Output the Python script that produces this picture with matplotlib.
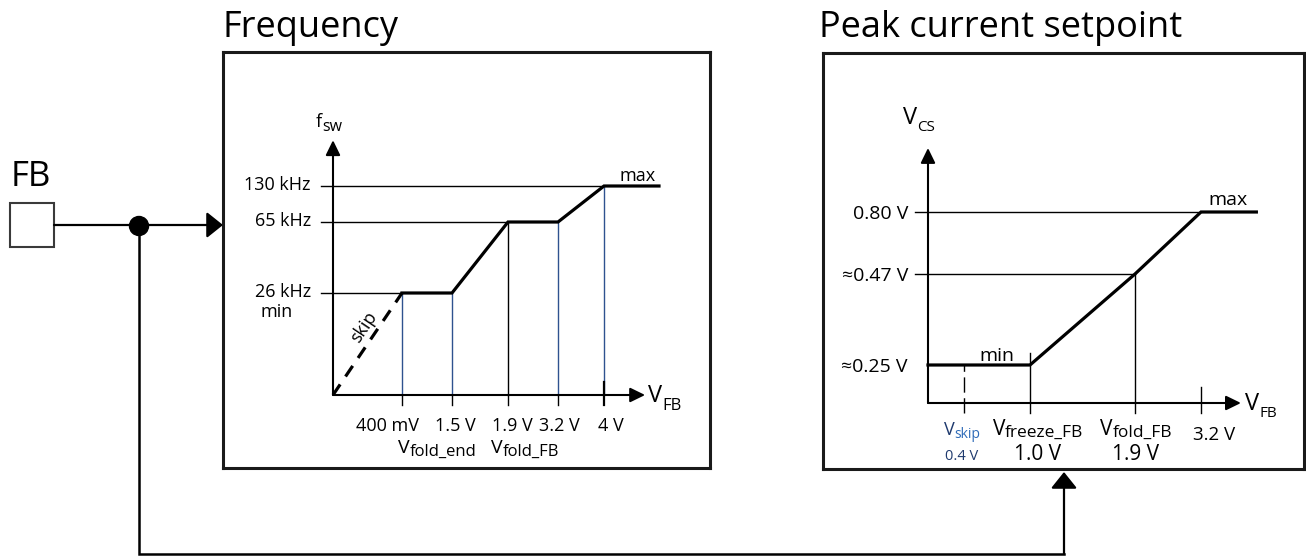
import numpy as np
import matplotlib
matplotlib.use('Agg')
import matplotlib.pyplot as plt
from matplotlib.patches import Rectangle, Circle

plt.rcParams['font.family'] = ['Open Sans', 'DejaVu Sans']

W, H = 1306, 557

# switching frequency vs feedback voltage (V, kHz)
fsw_vfb = [0.4, 1.5, 1.9, 3.2, 4.0]
fsw_khz = [26, 26, 65, 65, 130]
fsw_levels = [130, 65, 26]
fsw_level_text = ['130 kHz', '65 kHz', '26 kHz']
fsw_ticks = [0.4, 1.5, 1.9, 3.2, 4.0]
fsw_tick_text = ['400 mV', '1.5 V', '1.9 V', '3.2 V', '4 V']

# peak current setpoint vs feedback voltage (V, V)
vcs_vfb = [0.0, 1.0, 1.9, 3.2]
vcs_v = [0.25, 0.25, 0.47, 0.80]
vcs_levels = [0.80, 0.47, 0.25]
vcs_level_text = ['0.80 V', '\u22480.47 V', '\u22480.25 V']
v_skip = 0.4

BLUE = '#2f528f'
NAVY = '#1f3a6e'
SKIPBLUE = '#2e6bb8'

fig = plt.figure(figsize=(W / 100, H / 100), dpi=100)
bg = fig.add_axes([0, 0, 1, 1])
bg.set_xlim(0, W)
bg.set_ylim(H, 0)
bg.axis('off')


def warped_axes(xs, xpx, ys, ypx):
    # axes sitting on the box, with piecewise scales so the breakpoints land where drawn
    ax = fig.add_axes([xpx[0] / W, 1 - ypx[0] / H, (xpx[-1] - xpx[0]) / W, (ypx[0] - ypx[-1]) / H])
    xp = np.asarray(xpx, float)
    yp = -np.asarray(ypx, float)
    ax.set_xscale('function', functions=(lambda v: np.interp(v, xs, xp), lambda p: np.interp(p, xp, xs)))
    ax.set_yscale('function', functions=(lambda v: np.interp(v, ys, yp), lambda p: np.interp(p, yp, ys)))
    ax.set_xlim(xs[0], xs[-1])
    ax.set_ylim(ys[0], ys[-1])
    ax.set_xticks([])
    ax.set_yticks([])
    ax.set_xticks([], minor=True)
    ax.set_yticks([], minor=True)
    for s in ax.spines.values():
        s.set_linewidth(2.2)
        s.set_color('#1a1a1a')
    return ax


def note(ax, xy, text, dx, dy, size, ha='center', color='black', **kw):
    # dx, dy in pixels, dy counted downwards
    return ax.annotate(text, xy=xy, xytext=(dx, -dy), textcoords='offset pixels', fontsize=size,
                       ha=ha, va='baseline', color=color, annotation_clip=False, **kw)


def note_sub(ax, xy, main, sub, dx, dy, size, sub_size, drop, ha='center', color='black', sub_color=None):
    t1 = note(ax, xy, main, dx, dy, size, ha='left', color=color)
    t2 = note(ax, xy, sub, dx, dy + drop, sub_size, ha='left', color=sub_color or color)
    r = fig.canvas.get_renderer()
    w1 = t1.get_window_extent(r).width
    w2 = t2.get_window_extent(r).width
    shift = {'left': 0, 'center': -(w1 + w2) / 2, 'right': -(w1 + w2)}[ha]
    t1.xyann = (dx + shift, -dy)
    t2.xyann = (dx + shift + w1, -dy - drop)


def axis_arrows(ax, x_tip, y_tip):
    st = dict(arrowstyle='-|>,head_length=0.45,head_width=0.22', mutation_scale=20,
              lw=1.5, color='black', shrinkA=0, shrinkB=0)
    ax.annotate('', xy=(x_tip, 0), xytext=(0, 0), arrowprops=st, annotation_clip=False)
    ax.annotate('', xy=(0, y_tip), xytext=(0, 0), arrowprops=st, annotation_clip=False)


# ---- frequency chart
fx = [-1.6, 0.0, 0.4, 1.5, 1.9, 3.2, 4.0, 5.6]
fxp = [223, 333, 402, 452, 508, 558, 604, 710]
fy = [-30, 0, 26, 65, 130, 250]
fyp = [468, 395, 293, 222, 186, 52]
ax1 = warped_axes(fx, fxp, fy, fyp)
F_XTIP, F_YTIP, F_XEND, F_LSTART = 4.62, 171, 4.83, -0.18

axis_arrows(ax1, F_XTIP, F_YTIP)
for lev, txt in zip(fsw_levels, fsw_level_text):
    x_end = fsw_vfb[fsw_khz.index(lev)]
    ax1.plot([F_LSTART, x_end], [lev, lev], color='black', lw=1.0, clip_on=False)
    note(ax1, (0, lev), txt, -22, 4, 13, ha='right')
for v, txt, dx in zip(fsw_ticks, fsw_tick_text, [-14, 3, 4, 1, 7]):
    top = np.interp(v, fsw_vfb, fsw_khz)
    ax1.plot([v, v], [0, top], color='black' if v == 1.9 else BLUE, lw=1.0, clip_on=False)
    ax1.plot([v, v], [-4.1, 3.3 if v == 4.0 else 0], color='black', lw=1.6 if v == 4.0 else 1.0, clip_on=False)
    note(ax1, (v, 0), txt, dx, 36, 13)
ax1.plot([0, fsw_vfb[0]], [0, fsw_khz[0]], color='black', lw=2.3, dashes=(4, 3), clip_on=False)
ax1.plot(fsw_vfb + [F_XEND], fsw_khz + [fsw_khz[-1]], color='black', lw=2.3,
         solid_joinstyle='miter', clip_on=False)
note(ax1, (0.24, 15.6), 'skip', -6, -4, 13, rotation=56, rotation_mode='anchor',
     bbox=dict(fc='white', ec='none', pad=0.5))
note(ax1, (0, 26), 'min', -56, 24, 13)
note(ax1, (4.0, 130), 'max', 34, -5, 13)
note_sub(ax1, (0, F_YTIP), 'f', 'sw', -17, -13, 13, 11.5, 4, ha='left')
note_sub(ax1, (F_XTIP, 0), 'V', 'FB', 3, 7, 17, 12, 8, ha='left')
note_sub(ax1, (1.5, 0), 'V', 'fold_end', 24, 58, 14, 12, 3, ha='right')
note_sub(ax1, (1.9, 0), 'V', 'fold_FB', -17, 58, 14, 12, 3, ha='left')

# ---- peak current chart
px = [-1.0, 0.0, 0.4, 1.0, 1.9, 3.2, 4.0]
pxp = [823, 928, 964, 1030, 1135, 1201, 1304]
py = [-0.1, 0.0, 0.25, 0.47, 0.80, 1.2]
pyp = [469, 403, 365, 274, 212, 53]
ax2 = warped_axes(px, pxp, py, pyp)
P_XTIP, P_YTIP, P_XEND, P_LSTART = 3.51, 0.961, 3.63, -0.12

axis_arrows(ax2, P_XTIP, P_YTIP)
for lev, txt in zip(vcs_levels, vcs_level_text):
    x_end = vcs_vfb[vcs_v.index(lev)]
    if x_end > 0:
        ax2.plot([P_LSTART, x_end], [lev, lev], color='black', lw=1.0, clip_on=False)
    note(ax2, (0, lev), txt, -20, 7, 14, ha='right')
ax2.plot([1.9, 1.9], [-0.015, 0.47], color='black', lw=1.0, clip_on=False)
ax2.plot([1.0, 1.0], [-0.015, 0.279], color='black', lw=1.0, clip_on=False)
ax2.plot([3.2, 3.2], [-0.015, 0.105], color='black', lw=1.0, clip_on=False)
ax2.plot([v_skip, v_skip], [-0.015, 0.25], color='black', lw=1.0, dashes=(11, 4), clip_on=False)
ax2.plot(vcs_vfb + [P_XEND], vcs_v + [vcs_v[-1]], color='black', lw=2.3,
         solid_joinstyle='miter', clip_on=False)
note(ax2, (1.0, 0.25), 'min', -33, -4, 14)
note(ax2, (3.2, 0.80), 'max', 27, -7, 14)
note_sub(ax2, (0, P_YTIP), 'V', 'CS', -25, -24, 17, 11, 7, ha='left')
note_sub(ax2, (P_XTIP, 0), 'V', 'FB', 4, 7, 17, 11, 7, ha='left')
note_sub(ax2, (v_skip, 0), 'V', 'skip', -2, 32, 13, 10, 3, color=NAVY, sub_color=SKIPBLUE)
note(ax2, (v_skip, 0), '0.4 V', -2, 57, 10.5, color=NAVY)
note_sub(ax2, (1.0, 0), 'V', 'freeze_FB', 8, 32, 15, 12.5, 2)
note(ax2, (1.0, 0), '1.0 V', 8, 57, 15)
note_sub(ax2, (1.9, 0), 'V', 'fold_FB', 1, 32, 15, 12.5, 2)
note(ax2, (1.9, 0), '1.9 V', 1, 57, 15)
note(ax2, (3.2, 0), '3.2 V', 13, 37, 13.5)

# ---- titles and FB wiring
bg.text(222, 37, 'Frequency', fontsize=26, va='baseline', ha='left')
bg.text(819, 37, 'Peak current setpoint', fontsize=26, va='baseline', ha='left')
bg.text(11, 186, 'FB', fontsize=25, va='baseline', ha='left')
bg.add_patch(Rectangle((10, 203), 44, 44, fc='white', ec='#3a3a3a', lw=1.5))
big = dict(arrowstyle='-|>,head_length=0.5,head_width=0.4', mutation_scale=20,
           lw=1.6, color='black', shrinkA=0, shrinkB=0)
bg.annotate('', xy=(223, 225), xytext=(54, 225), arrowprops=big)
bg.plot([139, 139, 1064], [226, 554, 554], color='black', lw=1.8, solid_joinstyle='miter')
bg.annotate('', xy=(1064, 472), xytext=(1064, 554), arrowprops=big)
bg.add_patch(Circle((139, 226), 9.5, color='black'))

fig.savefig('out.png', dpi=100)
